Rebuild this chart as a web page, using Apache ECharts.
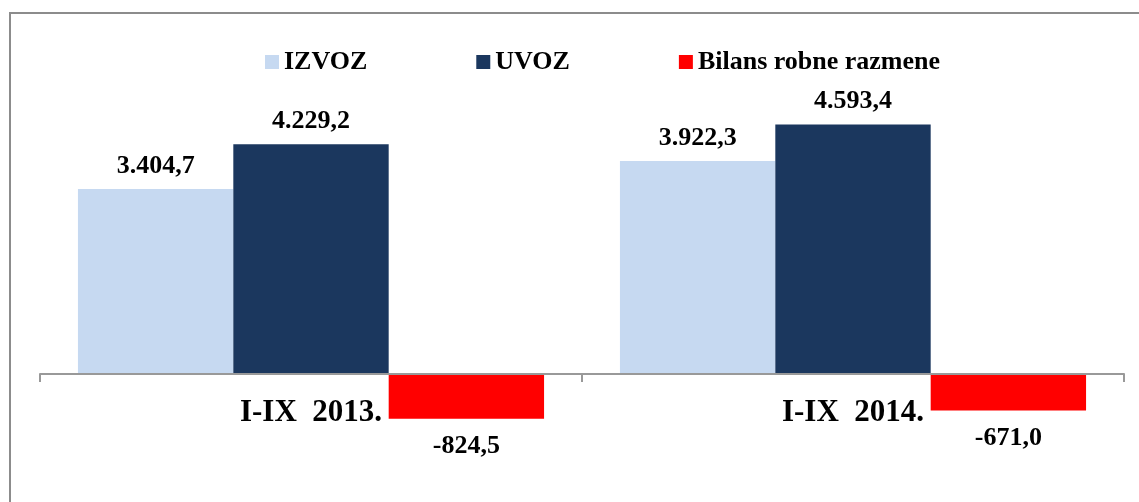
<!DOCTYPE html>
<html>
<head>
<meta charset="utf-8">
<script src="https://cdn.jsdelivr.net/npm/echarts@6/dist/echarts.min.js"></script>
<style>
  html, body { margin: 0; padding: 0; background: #fff; }
  #main { width: 1139px; height: 502px; }
</style>
</head>
<body>
<div id="main"></div>
<script>
// data
var categories = ['I-IX  2013.', 'I-IX  2014.'];
var izvoz = [3404.7, 3922.3];
var uvoz = [4229.2, 4593.4];
var bilans = [-824.5, -671.0];

var FONT = '"Liberation Serif", "Times New Roman", serif';

// 3.404,7 style
function fmt(v) {
    var s = Math.abs(v).toFixed(1).split('.');
    var intPart = s[0].replace(/\B(?=(\d{3})+(?!\d))/g, '.');
    return (v < 0 ? '-' : '') + intPart + ',' + s[1];
}

var labelStyle = {
    show: true,
    position: 'top',
    distance: 10,
    fontFamily: FONT,
    fontWeight: 'bold',
    fontSize: 26,
    color: '#000',
    formatter: function (p) { return fmt(p.value); }
};

var chart = echarts.init(document.getElementById('main'));
chart.setOption({
    animation: false,
    backgroundColor: '#fff',
    graphic: [{
        type: 'rect',
        shape: { x: 10, y: 13, width: 1140, height: 500 },
        style: { fill: 'none', stroke: '#8c8c8c', lineWidth: 2 },
        silent: true,
        z: 0
    }],
    legend: {
        left: 265,
        top: 49,
        padding: 0,
        itemWidth: 14,
        itemHeight: 14,
        itemGap: 109,
        icon: 'rect',
        textStyle: {
            fontFamily: FONT,
            fontWeight: 'bold',
            fontSize: 26,
            color: '#000'
        },
        data: ['IZVOZ', 'UVOZ', 'Bilans robne razmene']
    },
    grid: {
        left: 40,
        right: 15,
        top: 102.5,
        bottom: 73.7
    },
    xAxis: {
        type: 'category',
        data: categories,
        axisLine: { lineStyle: { color: '#999', width: 2 } },
        axisTick: { show: true, length: 8, lineStyle: { color: '#999', width: 2 } },
        axisLabel: {
            interval: 0,
            margin: -31,
            fontFamily: FONT,
            fontWeight: 'bold',
            fontSize: 31,
            color: '#000'
        },
        z: 5
    },
    yAxis: {
        type: 'value',
        min: -1000,
        max: 5000,
        show: false,
        splitLine: { show: false }
    },
    series: [
        {
            name: 'IZVOZ',
            type: 'bar',
            data: izvoz,
            barGap: '0%',
            barCategoryGap: '14%',
            itemStyle: { color: '#C6D9F1' },
            label: labelStyle
        },
        {
            name: 'UVOZ',
            type: 'bar',
            data: uvoz,
            barGap: '0%',
            barCategoryGap: '14%',
            itemStyle: { color: '#1B375E' },
            label: labelStyle
        },
        {
            name: 'Bilans robne razmene',
            type: 'bar',
            data: bilans,
            barGap: '0%',
            barCategoryGap: '14%',
            itemStyle: { color: '#FF0000' },
            label: Object.assign({}, labelStyle, { position: 'bottom', distance: 15 })
        }
    ]
});
</script>
</body>
</html>
